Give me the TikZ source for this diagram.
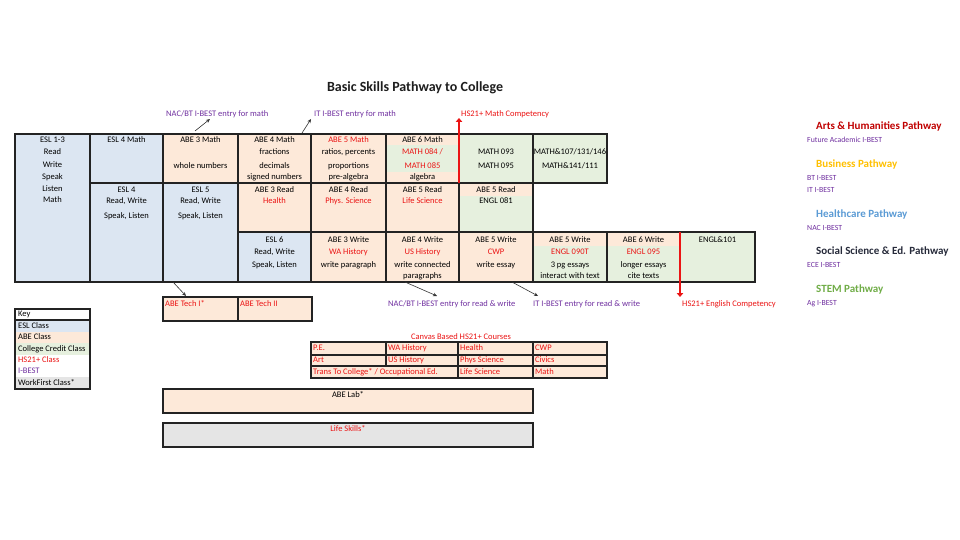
\documentclass[tikz,border=0pt]{standalone}
\usepackage{fontspec}
\setmainfont{Carlito}
\usetikzlibrary{arrows.meta}
\definecolor{eslc}{RGB}{220,230,242}
\definecolor{abec}{RGB}{253,233,217}
\definecolor{ccc}{RGB}{230,240,222}
\definecolor{greyc}{RGB}{229,229,229}
\definecolor{gridc}{RGB}{35,35,35}
\definecolor{redc}{RGB}{235,20,20}
\definecolor{purc}{RGB}{112,48,160}
\definecolor{artsc}{RGB}{192,0,0}
\definecolor{busc}{RGB}{255,192,0}
\definecolor{healc}{RGB}{91,155,213}
\definecolor{socc}{RGB}{38,42,58}
\definecolor{stemc}{RGB}{112,173,71}
\definecolor{titc}{RGB}{30,30,30}
\newcounter{tn}
\newcommand\cellbox[6]{\node[cellst, fill=#6, minimum width={#4-#2}, minimum height={#5-#3}, anchor=north west] (#1) at (#2,#3) {};}
\newcommand\tx[4][black]{\stepcounter{tn}\node[txt, text=#1, name=t\arabic{tn}] at (#2,#3) {#4};}
\newcommand\tl[4][black]{\stepcounter{tn}\node[txtl, text=#1, name=t\arabic{tn}] at (#2,#3) {#4};}
\begin{document}
\begin{tikzpicture}[x=1pt,y=-1pt,
  cellst/.style={draw=gridc, line width=1.1pt, inner sep=0pt, outer sep=0pt, rectangle},
  txt/.style={inner sep=0pt, font=\fontsize{8.5}{10}\selectfont, anchor=mid},
  txtl/.style={txt, anchor=mid west},
  conn/.style={draw=black!80, line width=0.6pt, -{Stealth[length=4pt,width=3.5pt]}},
  redarr/.style={draw=redc, line width=2.4pt, -{Triangle[length=4pt,width=6.5pt]}},
  pathhead/.style={inner sep=0pt, anchor=mid west, font=\fontsize{11}{13}\bfseries\selectfont},
  pathsub/.style={inner sep=0pt, anchor=mid west, text=purc, font=\fontsize{7.8}{9}\selectfont}]
\useasboundingbox[fill=white] (0,0) rectangle (960,540);

% title
\node[inner sep=0pt, text=titc, font=\fontsize{14}{16}\bfseries\selectfont] (title) at (415,88) {Basic Skills Pathway to College};

% ---------- main grid ----------
% bands for mixed cells
\fill[abec] (386,134) rectangle (459,183);
\fill[ccc] (386,145) rectangle (459,172);
\fill[abec] (459,183) rectangle (533,196);
\fill[ccc] (459,196) rectangle (533,232);
\fill[abec] (533,232) rectangle (607,246);
\fill[ccc] (533,246) rectangle (607,282);
\fill[abec] (607,232) rectangle (680,246);
\fill[ccc] (607,246) rectangle (680,282);

\cellbox{esl13}{15}{134}{90}{282}{eslc}
\cellbox{esl4m}{90}{134}{163}{183}{eslc}
\cellbox{abe3m}{163}{134}{238}{183}{abec}
\cellbox{abe4m}{238}{134}{311}{183}{abec}
\cellbox{abe5m}{311}{134}{386}{183}{abec}
\cellbox{abe6m}{386}{134}{459}{183}{none}
\cellbox{m093}{459}{134}{533}{183}{ccc}
\cellbox{m107}{533}{134}{607}{183}{ccc}
\cellbox{esl4}{90}{183}{163}{282}{eslc}
\cellbox{esl5}{163}{183}{238}{282}{eslc}
\cellbox{abe3r}{238}{183}{311}{232}{abec}
\cellbox{abe4r}{311}{183}{386}{232}{abec}
\cellbox{abe5r}{386}{183}{459}{232}{abec}
\cellbox{e081}{459}{183}{533}{232}{none}
\cellbox{esl6}{238}{232}{311}{282}{eslc}
\cellbox{abe3w}{311}{232}{386}{282}{abec}
\cellbox{abe4w}{386}{232}{459}{282}{abec}
\cellbox{abe5w}{459}{232}{533}{282}{abec}
\cellbox{e090}{533}{232}{607}{282}{none}
\cellbox{e095}{607}{232}{680}{282}{none}
\cellbox{e101}{680}{232}{755}{282}{ccc}

% texts row 1
\tx{52.5}{140}{ESL 1-3}
\tx{52.5}{152}{Read}
\tx{52.5}{165}{Write}
\tx{52.5}{177}{Speak}
\tx{52.5}{189}{Listen}
\tx{52.5}{200}{Math}
\tx{126.5}{140}{ESL 4 Math}
\tx{200.5}{140}{ABE 3 Math}
\tx{200.5}{166}{whole numbers}
\tx{274.5}{140}{ABE 4 Math}
\tx{274.5}{152}{fractions}
\tx{274.5}{166}{decimals}
\tx{274.5}{177}{signed numbers}
\tx[redc]{348.5}{140}{ABE 5 Math}
\tx{348.5}{152}{ratios, percents}
\tx{348.5}{166}{proportions}
\tx{348.5}{177}{pre-algebra}
\tx{422.5}{140}{ABE 6 Math}
\tx[redc]{422.5}{152}{MATH 084 /}
\tx[redc]{422.5}{166}{MATH 085}
\tx{422.5}{177}{algebra}
\tx{496}{152}{MATH 093}
\tx{496}{166}{MATH 095}
\tx{570}{152}{MATH\&107/131/146}
\tx{570}{166}{MATH\&141/111}
% row 2
\tx{126.5}{190}{ESL 4}
\tx{126.5}{201}{Read, Write}
\tx{126.5}{216}{Speak, Listen}
\tx{200.5}{190}{ESL 5}
\tx{200.5}{201}{Read, Write}
\tx{200.5}{216}{Speak, Listen}
\tx{274.5}{190}{ABE 3 Read}
\tx[redc]{274.5}{201}{Health}
\tx{348.5}{190}{ABE 4 Read}
\tx[redc]{348.5}{201}{Phys. Science}
\tx{422.5}{190}{ABE 5 Read}
\tx[redc]{422.5}{201}{Life Science}
\tx{496}{190}{ABE 5 Read}
\tx{496}{201}{ENGL 081}
% row 3
\tx{274.5}{240}{ESL 6}
\tx{274.5}{252}{Read, Write}
\tx{274.5}{265}{Speak, Listen}
\tx{348.5}{240}{ABE 3 Write}
\tx[redc]{348.5}{252}{WA History}
\tx{348.5}{265}{write paragraph}
\tx{422.5}{240}{ABE 4 Write}
\tx[redc]{422.5}{252}{US History}
\tx{422.5}{265}{write connected}
\tx{422.5}{276}{paragraphs}
\tx{496}{240}{ABE 5 Write}
\tx[redc]{496}{252}{CWP}
\tx{496}{265}{write essay}
\tx{570}{240}{ABE 5 Write}
\tx[redc]{570}{252}{ENGL 090T}
\tx{570}{265}{3 pg essays}
\tx{570}{276}{interact with text}
\tx{643.5}{240}{ABE 6 Write}
\tx[redc]{643.5}{252}{ENGL 095}
\tx{643.5}{265}{longer essays}
\tx{643.5}{276}{cite texts}
\tx{717.5}{240}{ENGL\&101}

% ---------- annotations ----------
\node[txtl, text=purc] (nacm) at (166,114) {NAC/BT I-BEST entry for math};
\node[txtl, text=purc] (itm) at (314,114) {IT I-BEST entry for math};
\node[txtl, text=redc] (hsm) at (461,114) {HS21+ Math Competency};
\node[txtl, text=purc] (nacrw) at (388,304) {NAC/BT I-BEST entry for read \& write};
\node[txtl, text=purc] (itrw) at (533,304) {IT I-BEST entry for read \& write};
\node[txtl, text=redc] (hse) at (682,304) {HS21+ English Competency};

\coordinate (a1s) at (195,131); \coordinate (a1e) at (210,119);
\coordinate (a2s) at (302,133); \coordinate (a2e) at (311,119);
\coordinate (a3s) at (405,282); \coordinate (a3e) at (437,296);
\coordinate (a4s) at (512,282); \coordinate (a4e) at (538,296);
\coordinate (a5s) at (173,282); \coordinate (a5e) at (186,296);
\coordinate (rms) at (459,183); \coordinate (rme) at (459,118);
\coordinate (res) at (680,232); \coordinate (ree) at (680,297);
\draw[conn] (a1s) -- (a1e);
\draw[conn] (a2s) -- (a2e);
\draw[conn] (a3s) -- (a3e);
\draw[conn] (a4s) -- (a4e);
\draw[conn] (a5s) -- (a5e);
\draw[redarr] (rms) -- (rme);
\draw[redarr] (res) -- (ree);

% ---------- ABE Tech ----------
\cellbox{tech1}{163}{297}{238}{321}{abec}
\cellbox{tech2}{238}{297}{312}{321}{abec}
\tl[redc]{165}{304}{ABE Tech I*}
\tl[redc]{240}{304}{ABE Tech II}

% ---------- Key ----------
\fill[white] (15,309) rectangle (90,320);
\fill[eslc] (15,320) rectangle (90,332);
\fill[abec] (15,332) rectangle (90,343);
\fill[ccc] (15,343) rectangle (90,355);
\fill[white] (15,355) rectangle (90,377);
\fill[greyc] (15,377) rectangle (90,389);
\cellbox{keybox}{15}{309}{90}{389}{none}
\coordinate (kl) at (15,320); \coordinate (kr) at (90,320);
\draw[draw=gridc, line width=1.1pt] (kl) -- (kr);
\tl{18}{314.5}{Key}
\tl{18}{326}{ESL Class}
\tl{18}{337.5}{ABE Class}
\tl{18}{349}{College Credit Class}
\tl[redc]{18}{360.5}{HS21+ Class}
\tl[purc]{18}{371.5}{I-BEST}
\tl{18}{383}{WorkFirst Class*}

% ---------- Canvas ----------
\node[txt, text=redc] (cvt) at (461,337) {Canvas Based HS21+ Courses};
\cellbox{cv11}{311}{342}{386}{355}{abec}
\cellbox{cv12}{386}{342}{458}{355}{abec}
\cellbox{cv13}{458}{342}{533}{355}{abec}
\cellbox{cv14}{533}{342}{607}{355}{abec}
\cellbox{cv21}{311}{355}{386}{366}{abec}
\cellbox{cv22}{386}{355}{458}{366}{abec}
\cellbox{cv23}{458}{355}{533}{366}{abec}
\cellbox{cv24}{533}{355}{607}{366}{abec}
\cellbox{cv31}{311}{366}{458}{378}{abec}
\cellbox{cv33}{458}{366}{533}{378}{abec}
\cellbox{cv34}{533}{366}{607}{378}{abec}
\tl[redc]{313}{348.5}{P.E.}
\tl[redc]{388}{348.5}{WA History}
\tl[redc]{460}{348.5}{Health}
\tl[redc]{535}{348.5}{CWP}
\tl[redc]{313}{360.5}{Art}
\tl[redc]{388}{360.5}{US History}
\tl[redc]{460}{360.5}{Phys Science}
\tl[redc]{535}{360.5}{Civics}
\tl[redc]{313}{372}{Trans To College* / Occupational Ed.}
\tl[redc]{460}{372}{Life Science}
\tl[redc]{535}{372}{Math}

% ---------- Lab / Life skills ----------
\cellbox{abelab}{163}{389}{533}{413}{abec}
\tx{348}{395}{ABE Lab*}
\cellbox{life}{163}{423}{533}{447}{greyc}
\tx[redc]{348}{429}{Life Skills*}

% ---------- Pathways ----------
\node[pathhead, text=artsc] (p1) at (816,127) {Arts \& Humanities Pathway};
\node[pathsub] (s1) at (807,140) {Future Academic I-BEST};
\node[pathhead, text=busc] (p2) at (816,165) {Business Pathway};
\node[pathsub] (s2) at (807,178) {BT I-BEST};
\node[pathsub] (s3) at (807,190) {IT I-BEST};
\node[pathhead, text=healc] (p3) at (816,215) {Healthcare Pathway};
\node[pathsub] (s4) at (807,228) {NAC I-BEST};
\node[pathhead, text=socc] (p4) at (816,252) {Social Science \& Ed. Pathway};
\node[pathsub] (s5) at (807,265) {ECE I-BEST};
\node[pathhead, text=stemc] (p5) at (816,290) {STEM Pathway};
\node[pathsub] (s6) at (807,303) {Ag I-BEST};
\end{tikzpicture}
\end{document}
